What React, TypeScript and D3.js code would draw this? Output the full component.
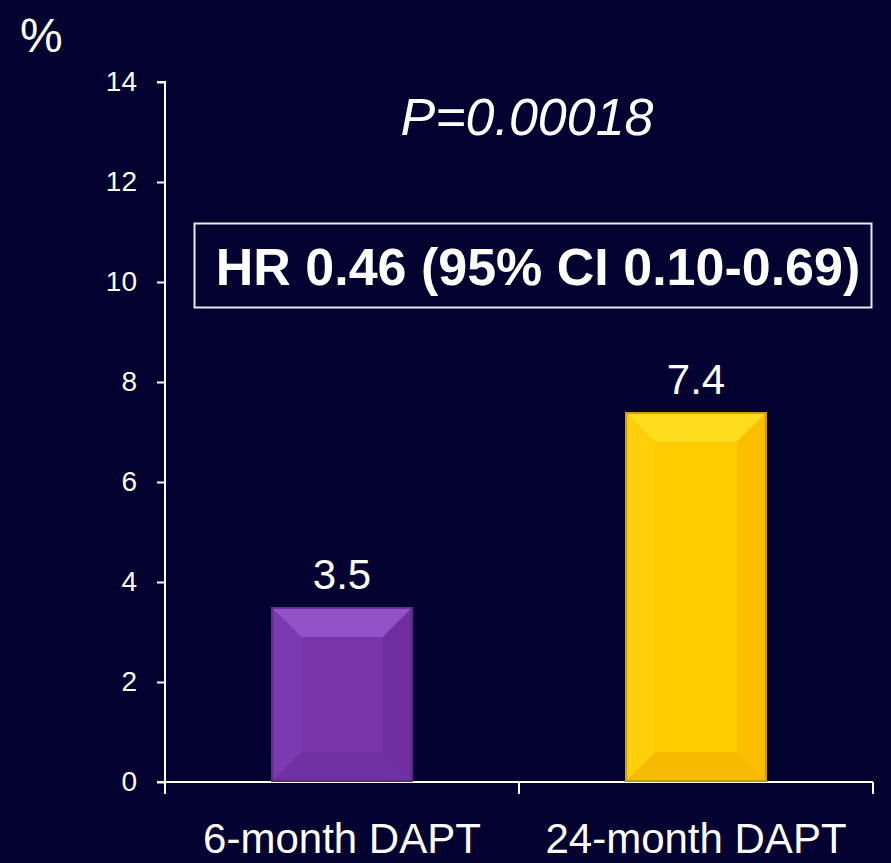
import React, { useEffect, useRef } from 'react';
import { select, scaleLinear, scaleBand, axisLeft, range } from 'd3';

const categories = ['6-month DAPT', '24-month DAPT'];
const values = [3.5, 7.4];
const valueLabels = ['3.5', '7.4'];
const yTicks = [0, 2, 4, 6, 8, 10, 12, 14];

// face colours: [center, top, left, right, bottom, edge]
const purpleFaces = ['#7836aa', '#9352c8', '#7c3ab0', '#6f2fa0', '#7032a2', '#55247f'];
const yellowFaces = ['#ffcc00', '#ffdc1e', '#ffd00a', '#fbbf00', '#f6ba00', '#b88a00'];
const barFaces = [purpleFaces, yellowFaces];

const App = () => {
    const svgRef = useRef<SVGSVGElement>(null);

    const svgWidth = 891;
    const svgHeight = 863;
    const bg = '#020130';

    useEffect(() => {
        const svg = select(svgRef.current);
        svg.selectAll('*').remove();

        const font = '"Liberation Sans", Arial, sans-serif';

        const xScale = scaleBand<string>()
            .domain(categories)
            .range([165, 873])
            .paddingInner(0.6)
            .paddingOuter(0.3);
        const yScale = scaleLinear().domain([0, 14]).range([782, 82]);

        svg.append('rect').attr('width', svgWidth).attr('height', svgHeight).attr('fill', bg);

        // y axis
        const yAxis = axisLeft(yScale).tickValues(yTicks).tickSize(8).tickPadding(20);
        const gy = svg.append('g').attr('transform', 'translate(165,0)').call(yAxis);
        gy.select('.domain').attr('stroke', 'white').attr('stroke-width', 2)
            .attr('d', `M-8,${yScale(14)}H0V${yScale(0) + 12}`);
        gy.selectAll('.tick line').attr('stroke', 'white').attr('stroke-width', 2);
        gy.selectAll('.tick text')
            .attr('fill', 'white')
            .style('font-family', font)
            .style('font-size', '28px');

        // x axis
        svg.append('line')
            .attr('x1', 157).attr('x2', 873)
            .attr('y1', yScale(0)).attr('y2', yScale(0))
            .attr('stroke', 'white').attr('stroke-width', 2);
        const step = xScale.step();
        svg.selectAll('line.xtick')
            .data(range(categories.length + 1))
            .join('line')
            .attr('class', 'xtick')
            .attr('x1', i => 165 + i * step).attr('x2', i => 165 + i * step)
            .attr('y1', yScale(0)).attr('y2', yScale(0) + 12)
            .attr('stroke', 'white').attr('stroke-width', 2);

        // bevelled bars
        categories.forEach((c, i) => {
            const x0 = xScale(c) as number;
            const x1 = x0 + xScale.bandwidth();
            const y0 = yScale(values[i]);
            const y1 = yScale(0);
            const b = Math.min(30, (y1 - y0) / 2, (x1 - x0) / 2);
            const f = barFaces[i];
            const g = svg.append('g');
            const poly = (pts: number[][], fill: string) =>
                g.append('polygon').attr('points', pts.map(p => p.join(',')).join(' ')).attr('fill', fill);
            poly([[x0, y0], [x1, y0], [x1, y1], [x0, y1]], f[0]);
            poly([[x0, y0], [x1, y0], [x1 - b, y0 + b], [x0 + b, y0 + b]], f[1]);
            poly([[x0, y0], [x0 + b, y0 + b], [x0 + b, y1 - b], [x0, y1]], f[2]);
            poly([[x1, y0], [x1 - b, y0 + b], [x1 - b, y1 - b], [x1, y1]], f[3]);
            poly([[x0, y1], [x0 + b, y1 - b], [x1 - b, y1 - b], [x1, y1]], f[4]);
            g.append('rect')
                .attr('x', x0 + 1).attr('y', y0 + 1)
                .attr('width', x1 - x0 - 2).attr('height', y1 - y0 - 2)
                .attr('fill', 'none').attr('stroke', f[5]).attr('stroke-width', 2)
                .attr('stroke-opacity', 0.7);

            svg.append('text')
                .attr('x', (x0 + x1) / 2)
                .attr('y', y0 - 18)
                .attr('text-anchor', 'middle')
                .attr('fill', 'white')
                .style('font-family', font)
                .style('font-size', '42px')
                .text(valueLabels[i]);

            svg.append('text')
                .attr('x', (x0 + x1) / 2)
                .attr('y', 853)
                .attr('text-anchor', 'middle')
                .attr('fill', 'white')
                .style('font-family', font)
                .style('font-size', '42px')
                .text(c);
        });

        // unit label
        svg.append('text')
            .attr('x', 20).attr('y', 52)
            .attr('fill', 'white')
            .style('font-family', font)
            .style('font-size', '48px')
            .text('%');

        // P value
        svg.append('text')
            .attr('x', 527).attr('y', 135)
            .attr('text-anchor', 'middle')
            .attr('fill', 'white')
            .style('font-family', font)
            .style('font-style', 'italic')
            .style('font-size', '52px')
            .text('P=0.00018');

        // HR box
        svg.append('rect')
            .attr('x', 194.5).attr('y', 223.5)
            .attr('width', 677).attr('height', 84)
            .attr('fill', bg)
            .attr('stroke', '#e8e8f0').attr('stroke-width', 2);
        svg.append('text')
            .attr('x', 538).attr('y', 285)
            .attr('text-anchor', 'middle')
            .attr('fill', 'white')
            .style('font-family', font)
            .style('font-weight', 'bold')
            .style('font-size', '52px')
            .text('HR 0.46 (95% CI 0.10-0.69)');
    }, []);

    return (
        <svg
            ref={svgRef}
            width={svgWidth}
            height={svgHeight}
            style={{ position: 'absolute', left: 0, top: 0, display: 'block' }}
        />
    );
};

export default App;
